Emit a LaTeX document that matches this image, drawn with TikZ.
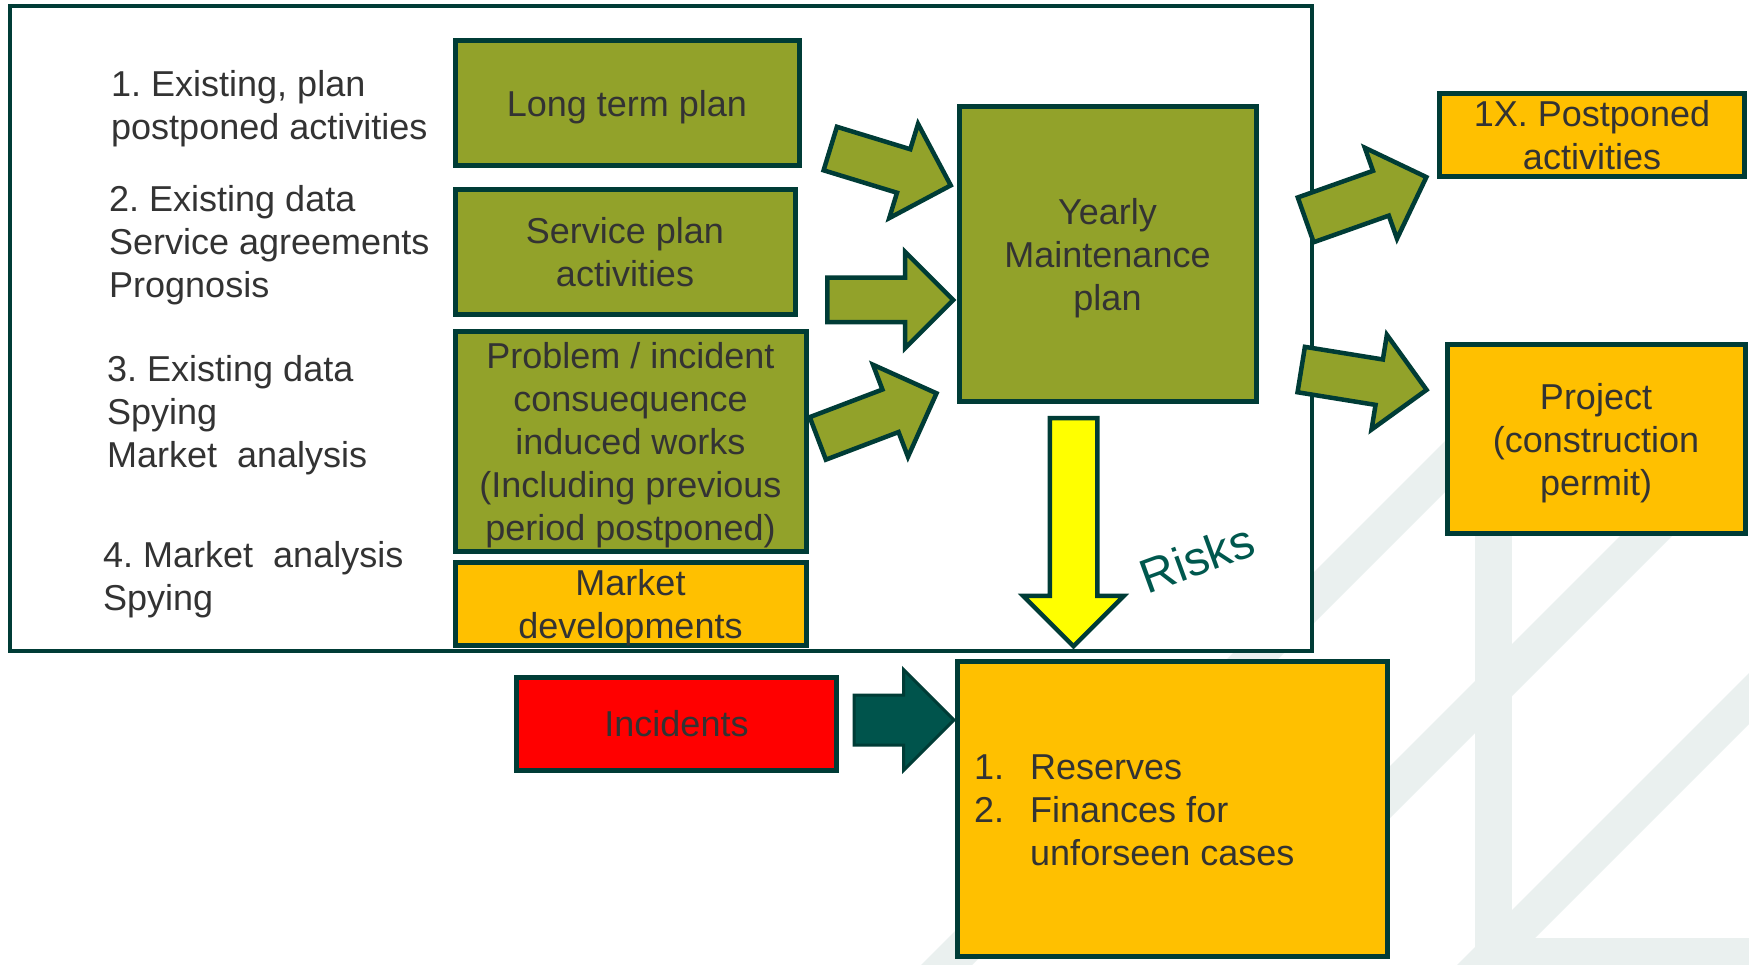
\documentclass[tikz,border=0pt]{standalone}
\usepackage{fontspec}
\setmainfont{Liberation Sans}
\usetikzlibrary{shapes.arrows}
\definecolor{cOlive}{RGB}{146,162,42}
\definecolor{cLine}{RGB}{0,60,54}
\definecolor{cAmber}{RGB}{255,192,0}
\definecolor{cRed}{RGB}{255,0,0}
\definecolor{cYellow}{RGB}{255,255,0}
\definecolor{cTeal}{RGB}{0,84,76}
\definecolor{cText}{RGB}{51,51,51}
\definecolor{cBand}{RGB}{234,240,239}
\definecolor{cRisk}{RGB}{0,88,78}
\newcommand\nodepth[1]{\raisebox{0pt}[\height][0pt]{#1}}
\frenchspacing
\begin{document}
\begin{tikzpicture}[x=1pt,y=-1pt,
  every node/.style={font=\fontsize{36}{43}\selectfont\frenchspacing, text=cText},
  box/.style={draw=cLine, line width=5pt, inner sep=0pt, align=center},
  greenbox/.style={box, fill=cOlive},
  amberbox/.style={box, fill=cAmber},
  redbox/.style={box, fill=cRed},
  lefttext/.style={anchor=north west, align=left, inner sep=0pt},
  blockarrow/.style={single arrow, draw=cLine, line width=4.5pt, fill=cOlive,
    inner xsep=0pt, single arrow head indent=0pt, anchor=tail},
  framebox/.style={draw=cLine, line width=4.5pt, fill=white, inner sep=0pt},
  band/.style={fill=cBand}
]
\useasboundingbox (0,0) rectangle (1749,965);
\fill[white] (0,0) rectangle (1749,965);
% background pattern
\fill[band] (921,965) -- (1500,386) -- (1500,437) -- (972,965) -- cycle;
\fill[band] (1387,769) -- (1700,456) -- (1700,508) -- (1387,821) -- cycle;
\fill[band] (1457,965) -- (1749,673) -- (1749,724) -- (1508,965) -- cycle;
\fill[band] (1475,480) rectangle (1512,965);
\fill[band] (1512,938) rectangle (1749,965);
% frame
\node[framebox, minimum width=1302pt, minimum height=645pt] (frame) at (661,328.5) {};
% left labels
\node[lefttext] (l1) at (111,70.6) {1. Existing, plan\\postponed activities};
\node[lefttext] (l2) at (109,185.6) {2. Existing data\\Service agreements\\Prognosis};
\node[lefttext] (l3) at (107,355.6) {3. Existing data\\Spying\\Market\ \ analysis};
\node[lefttext] (l4) at (103,541.6) {4. Market\ \ analysis\\Spying};
% boxes
\node[greenbox, minimum width=344pt, minimum height=125pt] (ltp) at (627,103.5) {\nodepth{Long term plan}};
\node[greenbox, minimum width=340pt, minimum height=125pt] (spa) at (625,252.5) {Service plan\\activities};
\node[greenbox, minimum width=351pt, minimum height=219pt] (pid) at (630.5,441.5) {Problem / incident\\consuequence\\induced works\\(Including previous\\\nodepth{period postponed)}};
\node[amberbox, minimum width=351pt, minimum height=83pt] (mkt) at (630.5,603.5) {Market\\\nodepth{developments}};
\node[greenbox, minimum width=297pt, minimum height=295pt] (ymp) at (1107.5,254.5) {Yearly\\Maintenance\\\nodepth{plan}};
\node[amberbox, minimum width=305pt, minimum height=83pt] (pact) at (1592,135) {1X. Postponed\\activities};
\node[amberbox, minimum width=298pt, minimum height=188pt] (proj) at (1596,439) {Project\\(construction\\\nodepth{permit)}};
\node[redbox, minimum width=320pt, minimum height=93pt] (inc) at (676.5,724) {Incidents};
\node[amberbox, minimum width=430pt, minimum height=295pt] (res) at (1172,808.5) {};
\node[lefttext] (restext) at (974,755) {\makebox[56pt][l]{1.}Reserves\\\makebox[56pt][l]{2.}Finances for\\\hspace*{56pt}unforseen cases};
% block arrows
\node[blockarrow, minimum height=126pt, inner ysep=20.5pt, single arrow head extend=26.5pt, rotate=-17] (a1) at (828.1,147.9) {};
\node[blockarrow, minimum height=126pt, inner ysep=20pt, single arrow head extend=26pt] (a2) at (825,300) {};
\node[blockarrow, minimum height=127pt, inner ysep=20.5pt, single arrow head extend=26.5pt, rotate=20.8] (a3) at (815.7,439.2) {};
\node[blockarrow, minimum height=128pt, inner ysep=21.5pt, single arrow head extend=24.5pt, rotate=19.5] (a4) at (1303.6,220.6) {};
\node[blockarrow, minimum height=127pt, inner ysep=20.75pt, single arrow head extend=25pt, rotate=-9.2] (a5) at (1299,369.2) {};
\node[blockarrow, fill=cYellow, minimum height=228pt, inner ysep=21.5pt, single arrow head extend=26.5pt, rotate=-90] (risk) at (1073.5,416) {};
\node[blockarrow, fill=cTeal, line width=3pt, minimum height=100pt, inner ysep=23.5pt, single arrow head extend=25.5pt] (ainc) at (852.5,720) {};
% risks label
\node[rotate=20, text=cRisk, font=\fontsize{48}{58}\selectfont] (risks) at (1197,558) {Risks};
\end{tikzpicture}
\end{document}
